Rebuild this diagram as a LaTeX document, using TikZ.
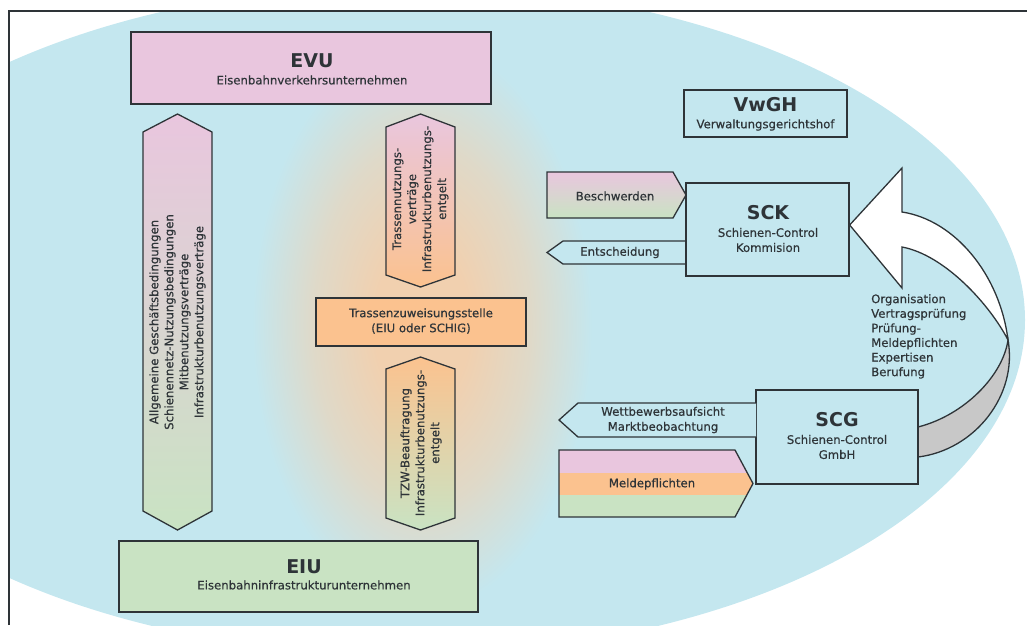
\documentclass[tikz,border=0pt]{standalone}
\usepackage{fontspec}
\setmainfont{DejaVu Sans}
\newfontfamily\medfont{DejaVu Sans}[FakeBold=0.5]
\definecolor{bluec}{HTML}{C4E7EF}
\definecolor{pinkc}{HTML}{E9C6DE}
\definecolor{greenc}{HTML}{C9E3C3}
\definecolor{orangec}{HTML}{FBC28F}
\definecolor{glowc}{HTML}{F1D0AF}
\definecolor{linec}{HTML}{2E3438}
\definecolor{grayc}{HTML}{C8C8C8}
\pgfdeclareradialshading{glowshade}{\pgfpoint{0bp}{0bp}}{color(0bp)=(glowc); color(7bp)=(glowc); color(16bp)=(glowc!60!bluec); color(25bp)=(bluec); color(50bp)=(bluec)}
\tikzset{
  ubox/.style={draw=linec, line width=1.3pt, inner sep=0pt},
  outl/.style={draw=linec, line width=1.3pt, line join=miter},
  ttl/.style={font=\bfseries\fontsize{19}{22}\selectfont, inner sep=0pt, text=linec},
  sub/.style={font=\medfont\fontsize{11.7}{15}\selectfont, inner sep=0pt, align=center, text=linec},
  vtext/.style={font=\medfont\fontsize{11.7}{15}\selectfont, rotate=90, align=center, inner sep=0pt, text=linec},
}
\begin{document}
\begin{tikzpicture}[x=1pt,y=-1pt]
\useasboundingbox (0,0) rectangle (1027,625);
% background ellipse
\begin{scope}
  \clip (9,11) rectangle (1027,625);
  \fill[bluec] (405,320) ellipse (620 and 335);
  \shade[shading=glowshade] (422,325) ellipse (170 and 285);
\end{scope}
% frame
\draw[linec, line width=1.2pt] (9,625) -- (9,11) -- (1027,11);

% EVU
\node[ubox, fill=pinkc, minimum width=360, minimum height=72] (evu) at (311,68) {};
\node[ttl] (evuT) at (312,61) {EVU};
\node[sub] (evuS) at (312,80) {Eisenbahnverkehrsunternehmen};

% EIU
\node[ubox, fill=greenc, minimum width=359, minimum height=71] (eiu) at (298.5,576.5) {};
\node[ttl] (eiuT) at (304,567) {EIU};
\node[sub] (eiuS) at (304,585) {Eisenbahninfrastrukturunternehmen};

% left double arrow
\draw[outl, top color=pinkc, bottom color=greenc] (143,132) -- (177.5,114) -- (212,132) -- (212,511) -- (177.5,530) -- (143,511) -- cycle;
\node[vtext] (leftT) at (177.5,322) {Allgemeine Geschäftsbedingungen\\Schienennetz-Nutzungsbedingungen\\Mitbenutzungsverträge\\Infrastrukturbenutzungsverträge};

% centre top arrow
\draw[outl, top color=pinkc, bottom color=orangec] (386,127) -- (420.5,114) -- (455,127) -- (455,275) -- (420.5,287) -- (386,275) -- cycle;
\node[vtext] (ctopT) at (420.5,199) {Trassennutzungs-\\verträge\\Infrastrukturbenutzungs-\\entgelt};

% Trassenzuweisungsstelle
\node[ubox, fill=orangec, minimum width=210, minimum height=48] (tzs) at (421,322) {};
\node[sub] (tzsT) at (421,321) {Trassenzuweisungsstelle\\(EIU oder SCHIG)};

% centre bottom arrow
\draw[outl, top color=orangec, bottom color=greenc] (386,369) -- (420.5,357) -- (455,369) -- (455,518) -- (420.5,530) -- (386,518) -- cycle;
\node[vtext] (cbotT) at (421,443) {TZW-Beauftragung\\Infrastrukturbenutzungs-\\entgelt};

% VwGH
\node[ubox, minimum width=163, minimum height=47] (vwgh) at (765.5,113.5) {};
\node[ttl] (vwghT) at (765.5,105) {VwGH};
\node[sub] (vwghS) at (765.5,125) {Verwaltungsgerichtshof};

% Beschwerden arrow
\draw[outl, top color=pinkc, bottom color=greenc] (547,172) -- (673,172) -- (686,195) -- (673,218) -- (547,218) -- cycle;
\node[sub] (beschT) at (615,196) {Beschwerden};

% Entscheidung arrow
\draw[outl, fill=bluec] (686,241) -- (563,241) -- (547,252.5) -- (563,264) -- (686,264);
\node[sub] (entT) at (620,252.5) {Entscheidung};

% SCK
\node[ubox, minimum width=163, minimum height=93] (sck) at (767.5,229.5) {};
\node[ttl] (sckT) at (768,213) {SCK};
\node[sub] (sckS) at (768,240) {Schienen-Control\\Kommision};

% curved arrow
\draw[outl, fill=white] (sck.east |- 0,225) -- (902,168) -- (902,212) .. controls (955,220) and (1000,275) .. (1008,340) .. controls (990,305) and (945,255) .. (902,247) -- (902,288) -- cycle;
\draw[outl, fill=grayc] (1008,340) .. controls (1003,375) and (965,415) .. (918,427) -- (918,457) .. controls (975,450) and (1018,395) .. (1008,340) -- cycle;
\node[sub, align=left, anchor=north west, font=\medfont\fontsize{11.7}{14.6}\selectfont] (tasks) at (871,294) {Organisation\\Vertragsprüfung\\Prüfung-\\Meldepflichten\\Expertisen\\Berufung};

% SCG
\node[ubox, minimum width=162, minimum height=94] (scg) at (837,437) {};
\node[ttl] (scgT) at (837,420) {SCG};
\node[sub] (scgS) at (837,447) {Schienen-Control\\GmbH};

% Wettbewerbsaufsicht arrow
\draw[outl, fill=bluec] (756,403) -- (578,403) -- (559,420) -- (578,437) -- (756,437);
\node[sub] (wettT) at (663,420) {Wettbewerbsaufsicht\\Marktbeobachtung};

% Meldepflichten arrow
\begin{scope}
  \clip (559,450) -- (735,450) -- (753,483.5) -- (735,517) -- (559,517) -- cycle;
  \fill[pinkc] (559,450) rectangle (753,473);
  \fill[orangec] (559,473) rectangle (753,495);
  \fill[greenc] (559,495) rectangle (753,517);
\end{scope}
\draw[outl] (559,450) -- (735,450) -- (753,483.5) -- (735,517) -- (559,517) -- cycle;
\node[sub] (meldT) at (652,484) {Meldepflichten};
\end{tikzpicture}
\end{document}
